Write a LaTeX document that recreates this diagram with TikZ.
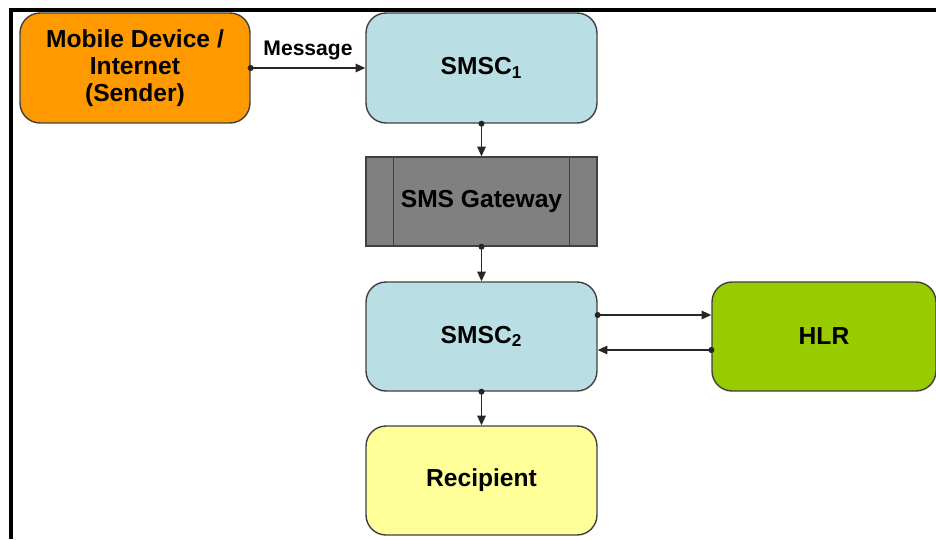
\documentclass[tikz,border=0pt]{standalone}
\usepackage{fontspec}
\setmainfont{Liberation Sans}
\usetikzlibrary{arrows.meta}
\definecolor{senderorange}{HTML}{FF9900}
\definecolor{smscblue}{HTML}{B9DFE4}
\definecolor{gatewaygray}{HTML}{808080}
\definecolor{hlrgreen}{HTML}{99CC00}
\definecolor{recipientyellow}{HTML}{FFFF99}
\definecolor{edgegray}{HTML}{404040}
\begin{document}
\begin{tikzpicture}[x=0.02cm,y=-0.02cm,
        box/.style={draw=edgegray,line width=0.8pt,rounded corners=0.4cm,minimum width=4.62cm,minimum height=2.2cm,align=center,font=\fontsize{14}{15.5}\selectfont\bfseries},
        flow/.style={line width=0.85pt,draw=black!85,shorten <=-1.7pt,{Circle[length=3.4pt]}-{Triangle[length=5.5pt,width=4.8pt]}}]
        \useasboundingbox (0,0) rectangle (936,539);
        \draw[line width=2.3pt] (9,10) -- (936,10);
        \draw[line width=2.3pt] (11,9) -- (11,539);
        \node[box,fill=senderorange,minimum width=4.6cm] (sender) at (135,68) {Mobile Device /\\Internet\\(Sender)};
        \node[box,fill=smscblue] (smsc1) at (481.5,68) {SMSC\textsubscript{1}};
        \node[box,fill=gatewaygray,rounded corners=0pt,minimum height=1.78cm] (gateway) at (481.5,201.5) {SMS Gateway};
        \draw[edgegray,line width=0.8pt] ([xshift=0.56cm]gateway.north west) -- ([xshift=0.56cm]gateway.south west);
        \draw[edgegray,line width=0.8pt] ([xshift=-0.56cm]gateway.north east) -- ([xshift=-0.56cm]gateway.south east);
        \node[box,fill=smscblue,minimum height=2.18cm] (smsc2) at (481.5,336.5) {SMSC\textsubscript{2}};
        \node[box,fill=hlrgreen,minimum width=4.48cm,minimum height=2.18cm] (hlr) at (824,336.5) {HLR};
        \node[box,fill=recipientyellow,minimum height=2.18cm] (recipient) at (481.5,480.5) {Recipient};
        \draw[flow] (sender.east) -- (smsc1.west) node[pos=0.5,anchor=south,yshift=1pt,font=\fontsize{12}{13}\selectfont\bfseries] {Message};
        \draw[flow] (smsc1.south) -- (gateway.north);
        \draw[flow] (gateway.south) -- (smsc2.north);
        \draw[flow] ([yshift=0.43cm]smsc2.east) -- ([yshift=0.43cm]hlr.west);
        \draw[flow] ([yshift=-0.27cm]hlr.west) -- ([yshift=-0.27cm]smsc2.east);
        \draw[flow] (smsc2.south) -- (recipient.north);
    \end{tikzpicture}
\end{document}
